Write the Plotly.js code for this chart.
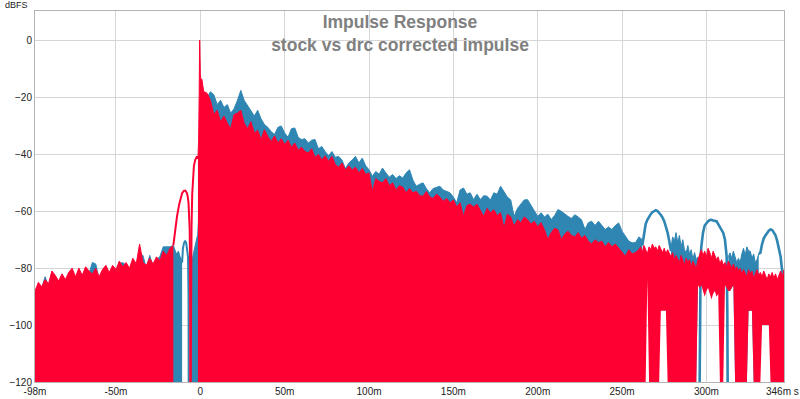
<!DOCTYPE html>
<html><head><meta charset="utf-8">
<script src="https://cdn.plot.ly/plotly-3.0.1.min.js"></script>
<style>html,body{margin:0;padding:0;background:#fff}#chart{width:800px;height:399px}</style>
</head><body><div id="chart"></div><script>
// ---- axis ticks ----
const xTickVals = [-98, -50, 0, 50, 100, 150, 200, 250, 300, 346];
const xTickText = ['-98m', '-50m', '0', '50m', '100m', '150m', '200m', '250m', '300m', ''];
const xEndLabel = '346m s';
const yTickVals = [-120, -100, -80, -60, -40, -20, 0];

// ---- pre-ringing noise floor, -98 ms .. -16 ms every 2 ms ----
const redFloorDb = [-88,-85,-86.5,-84,-85.5,-81,-82.5,-84.5,-82,-84,
  -81.5,-80,-83,-80,-82.5,-79.5,-81,-82,-80,-83,
  -80.5,-79,-81.5,-79,-80.5,-77.5,-79.5,-78,-80,-76.5,
  -78.5,-71.5,-78,-79,-76.5,-78.5,-76,-77.5,-74,-75.5,
  -73,-72];
const blueFloorDb = [-89,-86,-87,-83,-86.5,-82,-83.5,-85,-83,-85,
  -82.5,-81,-84,-81.5,-83.5,-80.5,-82,-78,-78.5,-84,
  -81.5,-80,-82.5,-80,-81.5,-78.5,-78,-79,-81,-77.5,
  -79.5,-75,-75.5,-80,-75.5,-79.5,-77,-76,-72.5,-72.5,
  -72.5,-72];

// ---- blue (stock) around the peak ----
const blueNearMs = [-15, -14.2, -13, -12, -11, -10.8];
const blueNearDb = [-74, -75, -74, -76, -77, -78];
const blueArc0Ms = [-10.8, -10.3, -9.6, -9, -8.4, -7.8, -7.3, -7.0, -6.9];
const blueArc0Db = [-78, -73, -71, -70.5, -71, -73, -76, -90, -120];
const blueRiseMs = [-6.0, -5.5, -5, -4.5, -4, -3.5, -3, -2.5, -2, -1.5, -1, -0.5, 0, 1];
const blueRiseDb = [-84, -78, -77, -76, -74.5, -73, -72, -70, -69, -68, -62, -35, -22, -20];

// ---- red (drc corrected) around the peak ----
const redArc1Ms = [-16, -15.4, -14.5, -13.8, -12.5, -11.5, -10.8, -9.8, -8.9, -8, -7.5, -7, -6.6, -6.3, -6.1, -5.95, -5.9];
const redArc1Db = [-72, -69, -64.5, -61.7, -57.5, -55, -53.6, -52.8, -52.7, -53.5, -54.7, -57, -61, -66.4, -78, -95, -120];
const redArc2Ms = [-5.7, -5.6, -5.5, -5.2, -4.8, -4.3, -3.8, -3, -2.4, -2, -1.6, -1.4];
const redArc2Db = [-120, -95, -78, -65, -54, -47.7, -44, -41.9, -41, -40.7, -41.5, -41];
const redPeakMs = [-1.4, -1.0, -0.7, -0.4, -0.2, 0, 0.4, 0.9, 1.4];
const redPeakDb = [-41, -35, -20, 0.2, -5, -12, -13.8, -13.5, -16];

// ---- decay, 2 ms .. 260 ms every 2 ms (red) ----
const redMainDb = [-17.9,-18.5,-21,-26,-24.5,-28.5,-26.5,-29,-31,-26,
  -25.5,-24.5,-29,-31,-28.5,-32.5,-31.5,-34.8,-31.3,-33.7,
  -35.5,-33.5,-36,-34.5,-36.5,-35,-37.5,-36,-38.5,-37.5,
  -39,-39.5,-38,-41,-40,-42,-40.5,-42.5,-40.7,-43.5,
  -44.5,-43,-45.5,-44,-45.5,-44.5,-46.5,-45,-47,-46.5,
  -53,-48.5,-49.5,-50,-48.5,-51,-50,-52.5,-51,-51.5,
  -53.5,-52,-53.5,-53,-54.5,-54.7,-53,-55,-55.5,-54,
  -55,-56.5,-55.5,-57,-56,-58.5,-57,-61.8,-58,-57.5,
  -58.5,-57.5,-59.5,-61.8,-59,-60.5,-59.5,-61.5,-60.5,-66,
  -61,-62,-65.3,-63,-64,-62,-63,-64.5,-63.5,-65.5,
  -64,-66.5,-69.9,-67.5,-66,-66.5,-70,-68,-67,-68.5,
  -69,-67.5,-69.5,-68.5,-70.5,-71.5,-70,-71,-70.5,-72.5,
  -71,-72.5,-71.5,-73,-74.5,-75.8,-73.5,-75,-74.5,-73.5];
// ---- tail, 261 ms .. 346 ms every 1 ms (red) ----
const redTailDb = [-72.5,-74.5,-72,-73.5,-75,-72.5,-73.5,-71.5,-73,-72.5,
  -74,-72,-73.5,-74.5,-73,-75,-73.5,-74.5,-76,-74.5,
  -77,-75.5,-76.5,-78,-75.5,-77,-79,-76.5,-78,-77,
  -79.5,-77.5,-78.5,-80,-77,-75,-73.5,-75.5,-74,-76,
  -73,-74.5,-76.5,-74,-75.5,-77,-76,-78.5,-77,-79,
  -78,-79.5,-77.5,-79,-80,-78.5,-80.5,-79.5,-81,-80,
  -82,-80.5,-81.5,-83,-80.5,-82,-81,-83.5,-82,-80.5,
  -82.5,-81.5,-83,-81,-82.5,-84,-82,-83,-81.5,-83.5,
  -82,-84,-82.5,-81,-83,-80.5];
// white gaps at the bottom of the tail (ms, level where the gap begins)
const gapMs = [265, 273,274,275,276, 295,296,297,298,299,300,301,302,303,304,305,306,307,
  311,312,313,314,315,316, 325,326,327, 333,334,335,336,337];
const gapFloorDb = [-84, -95,-95,-95,-95, -86,-87,-86,-88,-90,-88,-87,-89,-91,-89,-88,-90,-89,
  -86,-87,-88,-88,-87,-86, -95,-95,-95, -100,-100,-100,-100,-100];

// ---- decay, 2 ms .. 262 ms every 2 ms (blue) ----
const blueMainDb = [-20,-20,-18,-19,-22.5,-21,-23.5,-22.5,-25.5,-24,
  -21,-17.5,-21,-23,-24.5,-26.5,-24.5,-27.5,-29.5,-30.5,
  -32,-33,-30.5,-30,-32.5,-34,-31,-30.7,-34,-34.8,
  -34.5,-36,-35,-34.8,-38,-37.2,-39,-40.5,-39,-41,
  -40.7,-42,-45,-43,-42,-40.7,-43,-41.3,-44,-45.4,
  -47.7,-46,-47,-44.8,-46.5,-48,-47.1,-48.5,-47.5,-48.3,
  -46.5,-45.4,-49,-51.2,-50.5,-50,-52,-53.5,-52,-51.5,
  -51.2,-52.5,-53,-53.5,-55,-57,-52.5,-51.8,-54,-53.5,
  -55.9,-54,-55.9,-54.5,-54.7,-56,-53.5,-54,-51.2,-53,
  -55,-56,-61.8,-59,-57.6,-56,-55.9,-58,-60,-61.8,
  -60.5,-62,-61,-62.9,-61.5,-59.4,-60,-61,-61.8,-62.5,
  -61.2,-62,-63,-66.4,-64,-63.5,-65,-63.5,-65,-66.4,
  -65.5,-66.4,-65,-64.1,-67,-69,-70.5,-71.1,-71,-69,
  -70];
// ---- blue tail: low-frequency arcs and noisy stretches between them ----
const blueArc1Ms = [262,263,264,265,266,267,268,269,270,271,272,273,274,275,276,277,278,279];
const blueArc1Db = [-72,-68,-64.5,-63,-61.8,-61,-60.3,-60,-59.6,-59.9,-60.5,-61.3,-62.2,-63.5,-65.5,-67.5,-70.5,-74];
const blueNoise1Db = [-73,-69,-70.5,-67.5,-71,-68.5,-72.5,-70,-73.5,-74.6,-72,-75,-73.5,-76.9,-74.5,-77,-76]; // 279..295
const blueArc2Ms = [296,296.2,296.6,297,298,299,300,301,302,303,304,305,306,307,308,309,310,311,312,312.4,312.6];
const blueArc2Db = [-120,-90,-76,-72.3,-67.5,-65,-64,-63.5,-63.1,-63,-63.2,-63.3,-63.5,-64.5,-65.5,-66.5,-67.6,-70,-75.8,-95,-120];
const blueNoise2Db = [-76,-74.6,-76.5,-74,-76,-78.1,-76.5,-78,-75,-73,-75.5,-72.5,-74,-74,-76.5,-75,-78,-77,-75]; // 313..331
const blueArc3Ms = [331,332,333,334,335,336,337,338,339,340,341,342,343,344,344.8,345.4,346];
const blueArc3Db = [-75,-74.6,-71.5,-69.5,-68.5,-67.5,-66.8,-66.4,-66.6,-67.5,-68.5,-70.5,-73.4,-76,-80.4,-83,-83];

// ---- helpers ----
const RED = '#ff0033', BLUE = '#2f86b3', BOTTOM = -120;
function grid(start, step, n) { const a = []; for (let i = 0; i < n; i++) a.push(+(start + i * step).toFixed(3)); return a; }
function floorFor(ms) { return ms.map(t => { const i = gapMs.indexOf(t); return i >= 0 ? gapFloorDb[i] : BOTTOM; }); }
function band(ms, top, floor, color) {
  return [
    {type: 'scatter', x: ms, y: floor, mode: 'lines', line: {width: 0, color: color}, hoverinfo: 'skip', showlegend: false},
    {type: 'scatter', x: ms, y: top, mode: 'lines', fill: 'tonexty', fillcolor: color, line: {width: 1, color: color}, showlegend: false}
  ];
}
function arc(ms, db, color, w) {
  return {type: 'scatter', x: ms, y: db, mode: 'lines', line: {width: w, color: color}, showlegend: false};
}

const floorMs = grid(-98, 2, 42);
const bluePreMs = floorMs.concat(blueNearMs);
const bluePreDb = blueFloorDb.concat(blueNearDb);
const blueMainMs = blueRiseMs.concat(grid(2, 2, 131));
const blueMainAll = blueRiseDb.concat(blueMainDb);
const blueN1Ms = grid(279, 1, 17);
const blueN2Ms = grid(313, 1, 19);
const redMainMs = redPeakMs.concat(grid(2, 2, 130), grid(261, 1, 86));
const redMainAll = redPeakDb.concat(redMainDb, redTailDb);

const traces = [].concat(
  band(bluePreMs, bluePreDb, bluePreMs.map(() => BOTTOM), BLUE),
  [arc(blueArc0Ms, blueArc0Db, BLUE, 2)],
  band(blueMainMs, blueMainAll, blueMainMs.map(() => BOTTOM), BLUE),
  [arc(blueArc1Ms, blueArc1Db, BLUE, 2.6)],
  band(blueN1Ms, blueNoise1Db, floorFor(blueN1Ms), BLUE),
  [arc(blueArc2Ms, blueArc2Db, BLUE, 2.6)],
  band(blueN2Ms, blueNoise2Db, floorFor(blueN2Ms), BLUE),
  [arc(blueArc3Ms, blueArc3Db, BLUE, 2.6)],
  band(floorMs, redFloorDb, floorMs.map(() => BOTTOM), RED),
  [arc(redArc1Ms, redArc1Db, RED, 2)],
  [arc(redArc2Ms, redArc2Db, RED, 2)],
  band(redMainMs, redMainAll, floorFor(redMainMs), RED)
);

const tickFont = {family: 'Liberation Sans, Arial, sans-serif', size: 10, color: '#222'};
const layout = {
  width: 800, height: 399,
  margin: {l: 35, r: 16, t: 11, b: 17},
  paper_bgcolor: '#ffffff', plot_bgcolor: '#ffffff',
  showlegend: false,
  title: {
    text: '<b>Impulse Response</b><br><b>stock vs drc corrected impulse</b>',
    font: {family: 'Liberation Sans, Arial, sans-serif', size: 17.5, color: '#808080'},
    xref: 'container', x: 0.5, xanchor: 'center',
    yref: 'container', y: 0.93, yanchor: 'top'
  },
  xaxis: {
    range: [-98, 346], tickmode: 'array', tickvals: xTickVals, ticktext: xTickText,
    showgrid: true, gridcolor: '#d6d6d6', gridwidth: 1, zeroline: false,
    showline: true, linecolor: '#b4b4b4', linewidth: 1, mirror: true,
    ticks: '', tickfont: tickFont
  },
  yaxis: {
    range: [-120, 10.4], tickmode: 'array', tickvals: yTickVals,
    showgrid: true, gridcolor: '#d6d6d6', gridwidth: 1, zeroline: false,
    showline: true, linecolor: '#b4b4b4', linewidth: 1, mirror: true,
    ticks: '', tickfont: tickFont
  },
  annotations: [{
    text: 'dBFS', xref: 'paper', yref: 'paper', x: 0, y: 1, xanchor: 'right', yanchor: 'bottom',
    xshift: -5, yshift: -1, showarrow: false,
    font: {family: 'Liberation Sans, Arial, sans-serif', size: 9, color: '#222'}
  }, {
    text: xEndLabel, xref: 'x', yref: 'paper', x: 346, y: 0, xanchor: 'center', yanchor: 'top',
    xshift: -2, yshift: -2, showarrow: false, font: tickFont
  }]
};
Plotly.newPlot('chart', traces, layout, {displayModeBar: false, staticPlot: true});
</script></body></html>
